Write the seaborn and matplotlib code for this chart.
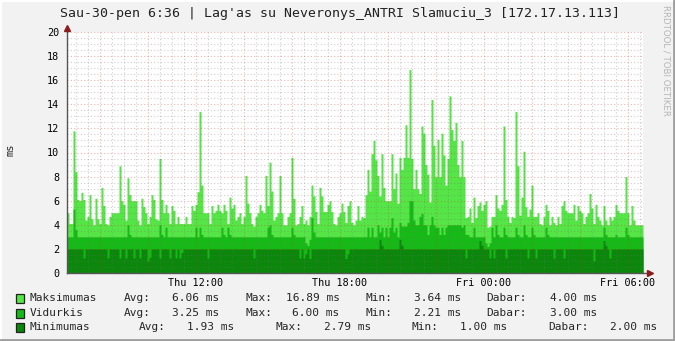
import numpy as np
import pandas as pd
import matplotlib
matplotlib.use("Agg")
import matplotlib.pyplot as plt
import seaborn as sns
from matplotlib.patches import Rectangle
from matplotlib.lines import Line2D

sns.set_style("white")
plt.rcParams['font.family'] = ['DejaVu Sans Mono', 'DejaVu Sans']

# ---------------- data ----------------
title = "Sau-30-pen 6:36 | Lag'as su Neveronys_ANTRI Slamuciu_3 [172.17.13.113]"
start_hour = 6 + 37.5 / 60      # Thu 06:37:30 (hours since Thu 00:00)
step_minutes = 5

maks = [
    5.0, 4.1, 4.1, 11.8, 8.4, 6.1, 6.0, 6.7, 6.1, 4.4, 4.7, 6.5,
    4.5, 4.0, 6.2, 4.5, 4.1, 7.1, 5.6, 4.1, 4.0, 4.7, 5.0, 5.0,
    5.0, 5.0, 8.9, 6.0, 5.7, 4.4, 7.9, 6.5, 6.0, 6.0, 6.0, 4.4,
    4.0, 6.2, 5.5, 5.0, 4.1, 4.7, 6.5, 6.1, 4.5, 4.4, 9.5, 6.1,
    5.0, 5.7, 5.0, 4.1, 5.6, 5.2, 4.1, 4.7, 4.1, 4.1, 4.1, 4.7,
    4.1, 4.1, 5.6, 5.2, 5.7, 6.75, 13.4, 7.3, 5.0, 5.0, 5.0, 4.1,
    5.6, 5.0, 5.2, 5.7, 5.2, 5.0, 5.7, 5.2, 4.1, 6.3, 5.4, 5.7,
    4.4, 4.7, 5.0, 4.1, 4.7, 8.1, 5.8, 5.0, 4.1, 3.9, 4.7, 5.0,
    5.7, 5.2, 5.0, 8.1, 5.6, 9.2, 6.8, 4.4, 4.7, 5.0, 8.1, 5.0,
    4.0, 4.0, 4.7, 5.0, 9.6, 6.2, 4.0, 4.1, 4.7, 5.6, 4.1, 4.4,
    4.0, 4.7, 7.3, 6.4, 5.1, 4.1, 7.1, 6.4, 5.1, 5.1, 5.7, 6.0,
    5.1, 4.1, 4.0, 4.7, 5.0, 5.8, 5.1, 4.2, 5.6, 6.0, 4.2, 4.0,
    4.4, 5.6, 4.4, 4.7, 4.6, 6.5, 8.6, 6.8, 9.9, 11.0, 9.4, 8.1,
    6.4, 9.9, 7.1, 6.0, 6.0, 6.0, 9.9, 7.0, 8.3, 5.8, 9.6, 8.6,
    9.6, 12.3, 9.6, 16.89, 9.5, 7.0, 8.6, 7.0, 6.6, 12.2, 11.6, 9.0,
    8.2, 5.9, 14.4, 10.6, 8.0, 11.1, 8.0, 11.6, 9.8, 7.3, 9.5, 14.7,
    11.9, 11.0, 12.5, 9.0, 8.0, 11.0, 8.0, 4.6, 4.7, 5.4, 4.2, 6.3,
    4.6, 5.6, 5.9, 5.2, 5.7, 6.0, 3.8, 3.9, 4.7, 4.7, 6.5, 5.4,
    5.2, 5.7, 12.2, 6.1, 4.7, 4.2, 4.7, 4.6, 13.4, 8.9, 4.8, 6.3,
    10.1, 5.5, 4.7, 5.3, 7.3, 4.7, 4.7, 5.0, 4.1, 4.0, 4.7, 5.7,
    5.2, 4.0, 4.7, 4.2, 4.0, 4.7, 4.1, 5.6, 6.0, 5.2, 5.0, 5.0,
    5.0, 5.7, 4.4, 5.6, 5.2, 5.0, 4.1, 4.7, 5.0, 6.6, 5.4, 4.1,
    5.7, 4.7, 4.4, 4.0, 5.6, 4.4, 4.0, 4.7, 4.4, 4.7, 5.7, 5.2,
    5.0, 5.0, 5.0, 8.0, 5.0, 4.0, 5.6, 4.4, 4.0, 4.0, 4.0, 4.0,
]

vidurkis = [
    3.0, 3.0, 3.0, 5.3, 3.6, 3.0, 3.0, 3.0, 3.0, 3.0, 3.0, 3.0,
    3.0, 3.0, 3.0, 3.0, 3.0, 3.0, 3.0, 3.0, 3.0, 3.0, 3.0, 3.0,
    3.0, 3.0, 3.0, 3.0, 3.0, 3.0, 4.0, 3.2, 3.0, 3.0, 3.0, 3.0,
    3.0, 3.0, 3.0, 3.0, 3.0, 3.0, 3.0, 3.0, 3.0, 3.0, 4.0, 3.2,
    3.0, 3.8, 3.0, 3.0, 3.0, 3.0, 3.0, 3.0, 3.0, 3.0, 3.0, 3.0,
    3.0, 3.0, 3.0, 3.0, 3.8, 3.0, 3.8, 3.2, 3.0, 3.0, 3.0, 3.0,
    3.0, 3.0, 3.0, 3.0, 3.0, 3.8, 3.2, 3.0, 3.8, 3.2, 3.0, 3.0,
    3.0, 3.0, 3.0, 3.0, 3.0, 3.0, 3.0, 3.0, 3.0, 3.0, 3.0, 3.0,
    3.0, 3.0, 3.0, 3.0, 3.8, 4.0, 3.2, 3.0, 3.0, 3.0, 3.0, 3.0,
    3.0, 3.0, 3.0, 3.0, 3.8, 3.2, 3.0, 3.0, 3.0, 3.0, 3.0, 2.5,
    2.3, 2.8, 4.6, 3.4, 3.0, 3.0, 3.0, 3.0, 3.0, 3.0, 3.0, 3.0,
    3.0, 3.0, 3.0, 3.0, 3.0, 3.0, 3.0, 3.0, 3.0, 3.0, 3.0, 3.0,
    3.0, 3.0, 3.0, 3.0, 3.0, 3.0, 3.8, 3.0, 3.8, 3.0, 3.0, 4.0,
    3.4, 3.8, 3.0, 3.8, 3.0, 3.8, 4.6, 3.4, 3.8, 3.0, 4.2, 3.9,
    3.9, 3.9, 4.2, 6.0, 6.0, 4.4, 4.0, 4.0, 4.7, 4.95, 4.0, 4.0,
    3.2, 4.0, 4.7, 4.0, 3.8, 3.8, 3.2, 3.8, 3.2, 3.8, 4.0, 4.0,
    4.0, 4.0, 4.0, 4.0, 4.0, 3.8, 4.0, 3.2, 3.2, 3.0, 3.0, 3.8,
    3.0, 3.0, 3.0, 3.0, 3.0, 2.5, 2.21, 2.5, 3.8, 3.0, 4.0, 3.2,
    3.0, 3.0, 3.8, 3.2, 3.0, 3.0, 3.0, 3.0, 3.8, 3.2, 3.0, 3.0,
    4.0, 3.2, 3.0, 3.0, 3.8, 3.2, 3.0, 3.0, 3.0, 3.0, 3.0, 3.8,
    3.2, 3.0, 3.0, 3.0, 3.0, 3.0, 3.0, 3.0, 3.0, 3.0, 3.0, 3.0,
    3.0, 3.0, 3.0, 3.0, 3.0, 3.0, 3.0, 3.0, 3.0, 3.0, 3.0, 3.0,
    3.0, 3.0, 3.0, 3.0, 3.8, 3.2, 3.0, 3.0, 3.0, 3.0, 3.2, 3.0,
    3.0, 3.0, 3.0, 3.8, 3.2, 3.0, 3.0, 3.0, 3.0, 3.0, 3.0, 3.0,
]

minimumas = [
    2, 2, 2, 2, 2, 2, 2, 2, 1.25, 2, 2, 2,
    2, 2, 2, 2, 2, 2, 2, 2, 1.25, 2, 2, 2,
    2, 2, 1.25, 2, 2, 1.25, 2, 2, 2, 1.25, 2, 2,
    1.25, 2, 2, 2, 1.0, 1.3, 2, 2, 2, 2, 1.25, 2,
    2, 2, 2, 1.25, 2, 2, 1.25, 2, 1.25, 1.7, 2, 2,
    2, 2, 2, 2, 2, 2, 2, 2, 2, 2, 1.25, 2,
    2, 2, 2, 2, 2, 2, 2, 2, 2, 2, 2, 2,
    2, 2, 2, 2, 2, 2, 2, 2, 2, 1.25, 2, 2,
    2, 2, 2, 2, 2, 2, 2, 2, 2, 2, 2, 2,
    2, 2, 2, 2, 2, 2, 2, 2, 1.25, 2, 1.25, 1.6,
    2, 1.2, 2, 2, 2, 2, 2, 2, 2, 2, 2, 2,
    2, 2, 2, 2, 2, 2, 2, 1.2, 1.6, 2, 2, 2,
    2, 2, 2, 2, 2, 2, 2, 2, 2, 2, 2, 2,
    2.79, 2.3, 2, 2, 2, 2, 2, 2, 2, 2, 2.79, 2.3,
    2, 2, 2, 2, 2, 2, 2, 2, 2, 2, 2, 2,
    2, 2, 2, 2, 2, 2, 2, 2, 2, 2, 2, 2,
    2, 2, 2, 2, 2, 2, 2, 1.25, 2, 2, 2, 2,
    2, 2, 2.7, 2.3, 2, 2, 2, 1.25, 2, 1.25, 2, 2,
    2, 2, 2, 1.25, 2, 2, 2, 2, 2, 2, 2, 2,
    2, 2, 1.25, 2, 2, 2, 1.25, 2, 2, 2, 2, 2,
    2, 2, 2, 1.25, 2, 2, 2, 2, 1.25, 2, 2, 2,
    2, 2, 2, 2, 2, 2, 2, 2, 2, 2, 2, 1.0,
    2, 2, 2, 2, 2.7, 2.3, 2, 1.25, 2, 2, 2, 2,
    2, 2, 2, 2, 2, 2, 2, 2, 2, 2, 2, 2,
]

series_names = ["Maksimumas", "Vidurkis", "Minimumas"]
series_colors = ["#55E546", "#16BA16", "#0B870B"]
stat_avg = ["6.06", "3.25", "1.93"]
stat_max = ["16.89", "6.00", "2.79"]
stat_min = ["3.64", "2.21", "1.00"]
stat_now = ["4.00", "3.00", "2.00"]

x_tick_hours = [12, 18, 24, 30]
x_tick_labels = ["Thu 12:00", "Thu 18:00", "Fri 00:00", "Fri 06:00"]
y_ticks = [0, 2, 4, 6, 8, 10, 12, 14, 16, 18, 20]
y_label = "ms"

# ---------------- figure ----------------
W, H = 675, 341
step_h = step_minutes / 60
n = len(maks)
t_edges = start_hour + np.arange(n + 1) * step_h
t_centers = t_edges[:-1] + step_h / 2
df = pd.DataFrame({"t": t_centers, "Maksimumas": maks,
                   "Vidurkis": vidurkis, "Minimumas": minimumas})

fig = plt.figure(figsize=(W / 100, H / 100), dpi=100, facecolor="#F2F2F2")
ax = fig.add_axes([67 / W, 1 - 273 / H, 576 / W, 241 / H])
ax.set_facecolor("white")

for name, col in zip(series_names, series_colors):
    sns.histplot(data=df, x="t", weights=name, bins=t_edges.tolist(), element="step",
                 fill=True, color=col, alpha=1, linewidth=0, ax=ax, zorder=2)

x0, x1 = start_hour, start_hour + n * step_h
ax.set_xlim(x0, x1)
ax.set_ylim(0, 20)

# grid (drawn above data, semi-transparent like rrdtool)
minor_c = (0.45, 0.45, 0.45, 0.35)
major_c = (0.85, 0.15, 0.15, 0.35)
dash = (0, (1, 2))
for h in np.arange(np.ceil(x0 * 2) / 2, x1, 0.5):
    major = abs(h / 2 - round(h / 2)) < 1e-9
    ax.axvline(h, color=major_c if major else minor_c, lw=0.8, ls=dash, zorder=3)
for v in np.arange(0.5, 20.01, 0.5):
    major = abs(v / 2 - round(v / 2)) < 1e-9
    ax.axhline(v, color=major_c if major else minor_c, lw=0.8, ls=dash, zorder=3)

# x ticks: small marks every 2 h, labels every 6 h
major_hours = np.arange(np.ceil(x0 / 2) * 2, x1, 2)
label_map = dict(zip(x_tick_hours, x_tick_labels))
ax.set_xticks(major_hours)
ax.set_xticklabels([label_map.get(int(round(h)), "") for h in major_hours])
ax.set_yticks(y_ticks)
ax.set_yticklabels([str(v) for v in y_ticks])
ax.tick_params(axis="both", labelsize=7.3, labelcolor="#000000",
               direction="out", color="#555555", width=0.8)
ax.tick_params(axis="y", length=2.5, pad=3)
ax.tick_params(axis="x", length=1.8, pad=2)
ax.set_xlabel("")
ax.set_ylabel("")

for s in ["top", "right"]:
    ax.spines[s].set_visible(False)
for s in ["left", "bottom"]:
    ax.spines[s].set_color("#555555")
    ax.spines[s].set_linewidth(1.0)
    ax.spines[s].set_zorder(4)

# axis extensions with arrows
ax.add_line(Line2D([0, 0], [1, 1 + 4 / 241], transform=ax.transAxes,
                   color="#555555", lw=1, clip_on=False))
ax.add_line(Line2D([1, 1 + 6 / 576], [0, 0], transform=ax.transAxes,
                   color="#555555", lw=1, clip_on=False))
ax.plot([0], [1 + 4 / 241], marker="^", ms=4.5, color="#8B1C1C",
        transform=ax.transAxes, clip_on=False, zorder=5)
ax.plot([1 + 7 / 576], [0], marker=">", ms=4.5, color="#8B1C1C",
        transform=ax.transAxes, clip_on=False, zorder=5)

# title, y-label, watermark
fig.text(340 / W, 1 - 13 / H, title, ha="center", va="center",
         fontsize=9.5, color="#222222")
fig.text(11 / W, 1 - 150 / H, y_label, ha="center", va="center",
         rotation=90, fontsize=7.5)
fig.text(666 / W, 1 - 5 / H, "RRDTOOL / TOBI OETIKER", ha="center", va="top",
         rotation=270, fontsize=6.2, color="#B5B5B5", family="DejaVu Sans")

# legend
row_y = [298, 313, 327]
col_x = [
    [124, 172, 245, 286, 365, 414, 486, 550],
    [124, 172, 245, 292, 365, 414, 486, 550],
    [139, 187, 275, 324, 411, 460, 548, 610],
]
for i, name in enumerate(series_names):
    y = 1 - row_y[i] / H
    fig.patches.append(Rectangle((16 / W, y - 4.5 / H), 8 / W, 8.5 / H,
                                 transform=fig.transFigure,
                                 facecolor=series_colors[i],
                                 edgecolor="#222222", lw=0.9))
    pieces = ["Avg:", stat_avg[i] + " ms", "Max:", stat_max[i] + " ms",
              "Min:", stat_min[i] + " ms", "Dabar:", stat_now[i] + " ms"]
    fig.text(30 / W, y, name, ha="left", va="center", fontsize=8)
    for px, txt in zip(col_x[i], pieces):
        fig.text(px / W, y, txt, ha="left", va="center", fontsize=8)

# outer frame
fig.add_artist(Line2D([0, 1], [1 - 0.5 / H, 1 - 0.5 / H], color="#FFFFFF", lw=1.5))
fig.add_artist(Line2D([0.5 / W, 0.5 / W], [0, 1], color="#FFFFFF", lw=1.5))
fig.add_artist(Line2D([1 - 1 / W, 1 - 1 / W], [0, 1], color="#9E9E9E", lw=2))
fig.add_artist(Line2D([0, 1], [1 / H, 1 / H], color="#9E9E9E", lw=2))

fig.savefig("out.png", dpi=100, facecolor=fig.get_facecolor())
